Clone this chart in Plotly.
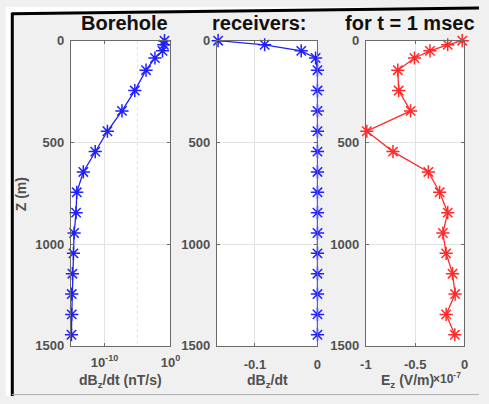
import plotly.graph_objects as go

# ---------------- data ----------------
depth_m = [0, 20, 50, 85, 145, 245, 345, 445, 545, 645, 745, 845, 945, 1045, 1145, 1245, 1345, 1445]
dbdt_log_nTs = [0.126, 0.1, 0.063, 4.5e-3, 2.0e-4, 4.0e-6, 4.5e-8, 2.8e-10, 4.0e-12, 6.3e-14,
                6.3e-15, 5.0e-15, 2.5e-15, 2.0e-15, 1.4e-15, 1.1e-15, 1.1e-15, 1.0e-15]
dbdt_lin = [-0.159, -0.0845, -0.026, -0.003, 0, 0, 0, 0, 0, 0, 0, 0, 0, 0, 0, 0, 0, 0]
ez_e7 = [-0.023, -0.17, -0.35, -0.507, -0.676, -0.667, -0.546, -0.99, -0.725, -0.366,
         -0.252, -0.17, -0.219, -0.186, -0.121, -0.095, -0.186, -0.098]
titles = ["Borehole", "receivers:", "for t = 1 msec"]
y_ticks = [0, 500, 1000, 1500]

W, H = 489, 404


def px(x):
    return x / W


def py(y):
    return 1 - y / H


FONT = "Liberation Sans, Arial, sans-serif"
TICKC = "#505050"
AXC = "#6a6a6a"
GRIDC = "#e3e3e3"

fig = go.Figure()

mk = dict(symbol="asterisk", size=11)
fig.add_trace(go.Scatter(x=dbdt_log_nTs, y=depth_m, mode="lines+markers", xaxis="x", yaxis="y",
                         line=dict(color="#2020ff", width=1.3),
                         marker=dict(**mk, color="#2020ff", line=dict(color="#2020ff", width=1.5)),
                         cliponaxis=False, showlegend=False))
fig.add_trace(go.Scatter(x=dbdt_lin, y=depth_m, mode="lines+markers", xaxis="x2", yaxis="y2",
                         line=dict(color="#2020ff", width=1.3),
                         marker=dict(**mk, color="#2020ff", line=dict(color="#2020ff", width=1.5)),
                         cliponaxis=False, showlegend=False))
fig.add_trace(go.Scatter(x=ez_e7, y=depth_m, mode="lines+markers", xaxis="x3", yaxis="y3",
                         line=dict(color="#ff2a2a", width=1.3),
                         marker=dict(**mk, color="#ff2a2a", line=dict(color="#ff2a2a", width=1.5)),
                         cliponaxis=False, showlegend=False))

panels = [(67, 170), (218, 322), (372, 474)]
ytop, ybot = 35, 352
ydom = [py(ybot), py(ytop)]

common_axis = dict(showline=True, linecolor=AXC, linewidth=1, mirror="ticks",
                   ticks="inside", ticklen=3, tickcolor=AXC, zeroline=False,
                   showgrid=True, gridcolor=GRIDC, gridwidth=1,
                   tickfont=dict(family=FONT, size=13, color=TICKC, weight="bold"))

layout = dict(width=W, height=H, margin=dict(l=0, r=0, t=0, b=0),
              paper_bgcolor="#f0f0f0", plot_bgcolor="white", showlegend=False)

# x axes
layout["xaxis"] = dict(common_axis, domain=[px(panels[0][0]), px(panels[0][1])], anchor="y",
                       type="log", range=[-15.1, 0],
                       tickmode="array", tickvals=[1e-10, 1],
                       ticktext=["10<sup>-10</sup>", "10<sup>0</sup>"],
                       minor=dict(tickmode="array", tickvals=[1e-5], showgrid=True,
                                  gridcolor=GRIDC, griddash="dot", ticks=""),
                       ticklabelstandoff=4)
layout["xaxis2"] = dict(common_axis, domain=[px(panels[1][0]), px(panels[1][1])], anchor="y2",
                        range=[-0.161, 0], tickmode="array", tickvals=[-0.1, 0],
                        ticktext=["-0.1", "0"], ticklabelstandoff=6)
layout["xaxis3"] = dict(common_axis, domain=[px(panels[2][0]), px(panels[2][1])], anchor="y3",
                        range=[-1, 0], tickmode="array", tickvals=[-1, -0.5, 0],
                        ticktext=["-1", "-0.5", "0"], ticklabelstandoff=6)
for i, name in enumerate(["yaxis", "yaxis2", "yaxis3"]):
    layout[name] = dict(common_axis, domain=ydom, anchor=["x", "x2", "x3"][i],
                        range=[1500, 0], tickmode="array", tickvals=y_ticks,
                        ticktext=[str(v) for v in y_ticks], ticklabelstandoff=3)

fig.update_layout(**layout)

# titles (placed at the positions seen in the reference)
title_pos = [(123, "center"), (262, "center"), (487, "right")]
for (xp, anc), t in zip(title_pos, titles):
    fig.add_annotation(x=px(xp), y=py(30), xref="paper", yref="paper",
                       text=t, showarrow=False, xanchor=anc, yanchor="bottom",
                       font=dict(family=FONT, size=20, color="#111", weight="bold"))

# axis titles
afont = dict(family=FONT, size=14, color=TICKC, weight="bold")
fig.add_annotation(x=px(118), y=py(388), xref="paper", yref="paper",
                   text="dB<sub>z</sub>/dt (nT/s)", showarrow=False,
                   xanchor="center", yanchor="middle", font=afont)
fig.add_annotation(x=px(270), y=py(388), xref="paper", yref="paper",
                   text="dB<sub>z</sub>/dt", showarrow=False,
                   xanchor="center", yanchor="middle", font=afont)
fig.add_annotation(x=px(415), y=py(388), xref="paper", yref="paper",
                   text="E<sub>z</sub> (V/m)", showarrow=False,
                   xanchor="center", yanchor="middle", font=afont)
fig.add_annotation(x=px(472), y=py(385), xref="paper", yref="paper",
                   text="×10<sup>-7</sup>", showarrow=False,
                   xanchor="right", yanchor="middle",
                   font=dict(family=FONT, size=12, color=TICKC, weight="bold"))
fig.add_annotation(x=px(15), y=py(195), xref="paper", yref="paper",
                   text="Z (m)", showarrow=False, textangle=-90,
                   xanchor="center", yanchor="middle", font=afont)

# outer frame of the screenshot
fig.add_shape(type="path", xref="paper", yref="paper",
              path=f"M 0 1 L 1 1 L 1 {py(1)} L {px(6)} {py(7)} L {px(6)} 0 L 0 0 Z",
              fillcolor="white", line=dict(width=0), layer="below")
fig.add_shape(type="line", xref="paper", yref="paper",
              x0=px(6), y0=py(7), x1=1, y1=py(1), line=dict(color="black", width=3))
fig.add_shape(type="line", xref="paper", yref="paper",
              x0=px(6.5), y0=py(6), x1=px(6.5), y1=0, line=dict(color="black", width=3))
fig.add_shape(type="line", xref="paper", yref="paper",
              x0=px(6), y0=py(402.5), x1=1, y1=py(402.5), line=dict(color="#b0b0b0", width=1))

fig.write_html("out.html")
